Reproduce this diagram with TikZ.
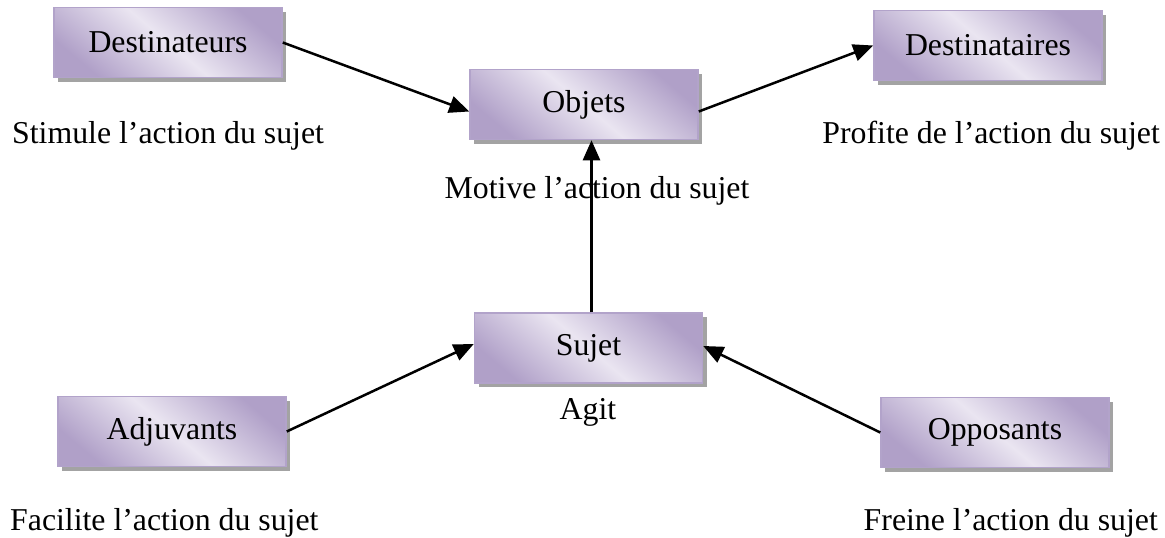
\documentclass[tikz,border=0pt]{standalone}
\usepackage{fontspec}
\setmainfont{Liberation Serif}
\usetikzlibrary{shadows,calc,arrows.meta}
\definecolor{boxdark}{HTML}{B0A0C8}
\definecolor{boxlight}{HTML}{EAE5F1}
\definecolor{boxborder}{HTML}{B2A3CA}
\definecolor{shadowgray}{HTML}{A3A3A3}
\tikzset{
  actant/.style={rectangle, minimum width=228pt, minimum height=70pt, inner sep=0pt,
    draw=boxborder, line width=1.5pt,
    top color=boxdark, bottom color=boxdark, middle color=boxlight, shading angle=-40,
    drop shadow={shadow xshift=4pt, shadow yshift=-4pt, fill=shadowgray, opacity=1},
    font=\fontsize{31.8}{38}\selectfont},
  lbl/.style={inner sep=0pt, font=\fontsize{31.8}{38}\selectfont},
  conn/.style={line width=2.5pt, -{Triangle[length=20pt,width=17pt]}}
}
\begin{document}
\begin{tikzpicture}[x=1pt,y=-1pt]
\useasboundingbox (0,0) rectangle (1165,538);
\node[actant] (dr) at (168,42.5) {Destinateurs};
\node[actant] (ob) at (584,104.5) {Objets};
\node[actant] (de) at (988,45.5) {Destinataires};
\node[actant] (su) at (588.5,348) {Sujet};
\node[actant] (ad) at (172,431.5) {Adjuvants};
\node[actant] (op) at (995,432.5) {Opposants};

\node[lbl, anchor=base west] (l1) at (12,143) {Stimule l’action du sujet};
\node[lbl, anchor=base east] (l2) at (1160,143) {Profite de l’action du sujet};
\node[lbl, anchor=base] (l3) at (597,198) {Motive l’action du sujet};
\node[lbl, anchor=base] (l4) at (588,419) {Agit};
\node[lbl, anchor=base west] (l5) at (10,530) {Facilite l’action du sujet};
\node[lbl, anchor=base east] (l6) at (1158,530) {Freine l’action du sujet};

\draw[conn] (dr.east) -- ($(ob.west)+(0,7)$);
\draw[conn] ($(ob.east)+(0,7)$) -- (de.west);
\coordinate (v) at ($(su.north)+(3,0)$);
\draw[conn] (v) -- (v |- ob.south);
\draw[conn] (ad.east) -- ($(su.west)+(0,-4)$);
\draw[conn] (op.west) -- ($(su.east)+(0,-2)$);
\end{tikzpicture}
\end{document}
